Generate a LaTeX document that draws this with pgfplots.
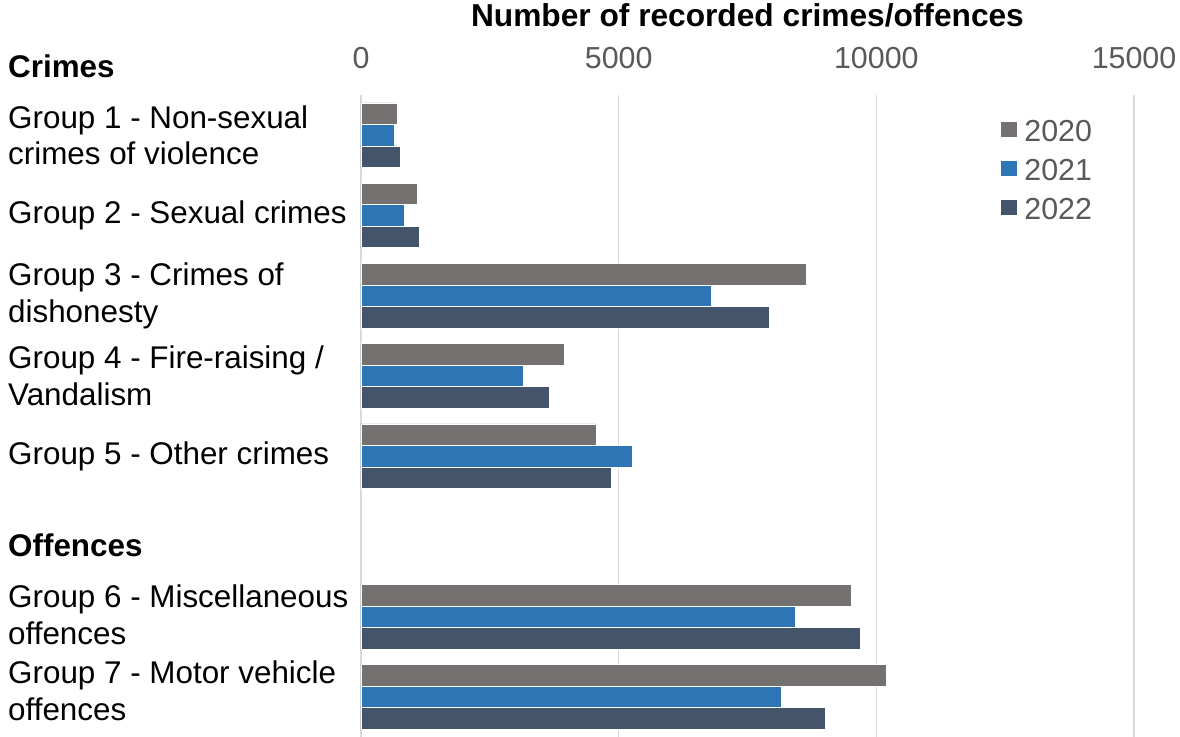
\documentclass[border=0pt]{standalone}
\usepackage{pgfplots}
\pgfplotsset{compat=1.18}
\usepackage{fontspec}
\setmainfont{Liberation Sans}
\definecolor{cA}{HTML}{767171}
\definecolor{cB}{HTML}{2E75B6}
\definecolor{cC}{HTML}{44546A}
\definecolor{gridc}{HTML}{D9D9D9}
\definecolor{tickc}{HTML}{595959}
\begin{document}
\begin{tikzpicture}
\useasboundingbox (-361bp,0bp) rectangle (819bp,737bp);
\begin{axis}[
  at={(0,0)}, anchor=south west,
  scale only axis, width=773bp, height=642bp,
  xbar, y dir=reverse,
  xmin=0, xmax=15000, ymin=0.5, ymax=8.5,
  clip=false,
  scaled x ticks=false,
  axis line style={draw=none},
  major tick length=0pt,
  xtick={0,5000,10000,15000},
  xticklabels={0,5000,10000,15000},
  xticklabel pos=upper,
  xticklabel style={font=\fontsize{30.5}{36}\selectfont, text=tickc, inner sep=0pt, anchor=base, yshift=27bp},
  xmajorgrids, grid style={draw=gridc, line width=1.6bp},
  ytick={1,2,3,4,5,7,8},
  yticklabels={{Group 1 - Non-sexual\\crimes of violence},{Group 2 - Sexual crimes},{Group 3 - Crimes of\\dishonesty},{Group 4 - Fire-raising /\\Vandalism},{Group 5 - Other crimes},{Group 6 - Miscellaneous\\offences},{Group 7 - Motor vehicle\\offences}},
  yticklabel style={font=\fontsize{31.5}{36.7}\selectfont, text=black, inner sep=0pt, anchor=west, align=left, xshift=-353bp, yshift={ifthenelse(\ticknum==6,6,ifthenelse(\ticknum==5,2,0))}},
  bar width=0.268,
  legend cell align=left,
  legend image code/.code={\fill[#1] (0bp,-6.4bp) rectangle (16.7bp,10.3bp);},
  legend style={at={(axis description cs:0.8267,1)}, anchor=north west, yshift=-24.6bp, draw=none, fill=none, inner sep=0pt, font=\fontsize{30.5}{36}\selectfont, text=tickc, nodes={inner sep=0pt}, row sep=16.3bp, /tikz/every odd column/.append style={column sep=7bp}},
]
\addplot[fill=cA, draw=white, line width=0.5bp, bar shift=-0.268] coordinates {
 (712,1) (1086,2) (8633,3) (3944,4) (4565,5) (9519,7) (10190,8)};
\addplot[fill=cB, draw=white, line width=0.5bp, bar shift=0] coordinates {
 (646,1) (840,2) (6790,3) (3156,4) (5270,5) (8425,7) (8161,8)};
\addplot[fill=cC, draw=white, line width=0.5bp, bar shift=0.268] coordinates {
 (770,1) (1125,2) (7920,3) (3653,4) (4850,5) (9686,7) (9007,8)};
\legend{2020,2021,2022}
\node[font=\bfseries\fontsize{31.8}{36}\selectfont, anchor=base, inner sep=0pt] at (axis description cs:0.5,1) [yshift=68.3bp] {Number of recorded crimes/offences};
\node[font=\bfseries\fontsize{31.5}{36}\selectfont, anchor=base west, inner sep=0pt] at (axis cs:0,0.288) [xshift=-353bp] {Crimes};
\node[font=\bfseries\fontsize{31.5}{36}\selectfont, anchor=base west, inner sep=0pt] at (axis cs:0,6.245) [xshift=-353bp] {Offences};
\end{axis}
\end{tikzpicture}
\end{document}
